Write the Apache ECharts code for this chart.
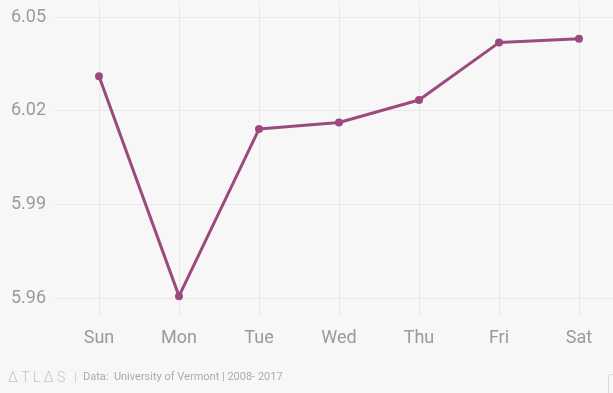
<!DOCTYPE html>
<html><head><meta charset="utf-8">
<script src="https://cdn.jsdelivr.net/npm/echarts@6/dist/echarts.min.js"></script>
<style>html,body{margin:0;padding:0;background:#f7f7f7;}#c{width:613px;height:393px;}</style>
</head><body><div id="c"></div>
<script>
const categories = ['Sun','Mon','Tue','Wed','Thu','Fri','Sat'];
const values = [6.031, 5.9606, 6.0141, 6.0162, 6.0234, 6.0418, 6.043];
const yMin = 5.96, yMax = 6.05, yStep = 0.03;
const source = 'Data:  University of Vermont | 2008- 2017';

const chart = echarts.init(document.getElementById('c'), null, {renderer:'canvas'});
const gridColor = '#e9e9e9';
const textColor = '#9a9a9a';
const font = 'Roboto';
chart.setOption({
  backgroundColor:'#f7f7f7',
  animation:false,
  grid:[
    {left:99, right:34, top:2, bottom:77},
    {left:54, right:0, top:17, bottom:95},
    {left:99, right:34, top:17, bottom:95}
  ],
  xAxis:[
    {gridIndex:0, type:'category', data:categories, boundaryGap:false,
     axisLine:{show:false}, axisTick:{show:false}, axisLabel:{show:false},
     splitLine:{show:true, lineStyle:{color:gridColor, width:1}}},
    {gridIndex:1, type:'value', show:false},
    {gridIndex:2, type:'category', data:categories, boundaryGap:false,
     axisLine:{show:false}, axisTick:{show:false}, splitLine:{show:false},
     axisLabel:{color:textColor, fontFamily:font, fontSize:18, margin:31}}
  ],
  yAxis:[
    {gridIndex:0, type:'value', show:false, splitLine:{show:false}},
    {gridIndex:1, type:'value', min:yMin, max:yMax, interval:yStep,
     axisLine:{show:false}, axisTick:{show:false},
     axisLabel:{color:textColor, fontFamily:font, fontSize:18, margin:8, formatter:v=>v.toFixed(2)},
     splitLine:{show:true, lineStyle:{color:gridColor, width:1}}},
    {gridIndex:2, type:'value', min:yMin, max:yMax, show:false, splitLine:{show:false}}
  ],
  series:[{
    type:'line', xAxisIndex:2, yAxisIndex:2, data:values,
    symbol:'circle', symbolSize:8,
    lineStyle:{color:'#9c4a7e', width:3},
    itemStyle:{color:'#9c4a7e'}
  }],
  graphic:[
    {type:'text', left:8, top:371, style:{text:'Δ T L Δ S', fill:'#c4c4c4', font:'300 14px Roboto'}},
    {type:'text', left:74, top:371, style:{text:'|', fill:'#d0d0d0', font:'13px Roboto'}},
    {type:'text', left:83, top:372, style:{text:source, fill:'#ababab', font:'11px Roboto'}},
    {type:'rect', left:606, top:372, shape:{width:12, height:30, r:2}, style:{fill:'none', stroke:'#d8d8d8', lineWidth:1}}
  ]
});
</script></body></html>
